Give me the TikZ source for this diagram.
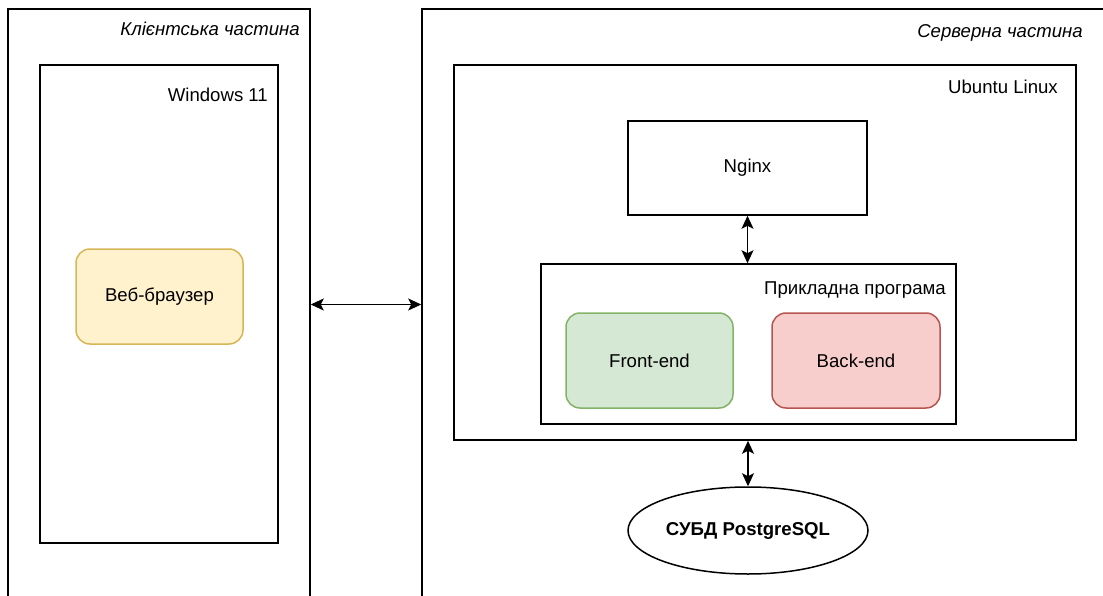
\documentclass[tikz,border=0pt]{standalone}
\usepackage{fontspec}
\setmainfont{Liberation Sans}
\usetikzlibrary{shapes.geometric,arrows.meta}
\definecolor{yfill}{HTML}{FFF2CC}
\definecolor{ydraw}{HTML}{D6B656}
\definecolor{gfill}{HTML}{D5E8D4}
\definecolor{gdraw}{HTML}{82B366}
\definecolor{rfill}{HTML}{F8CECC}
\definecolor{rdraw}{HTML}{B85450}
\begin{document}
\begin{tikzpicture}[x=1pt,y=-1pt,
  box/.style={draw=black, line width=1.5pt, rectangle, inner sep=0pt},
  rbox/.style={rectangle, line width=1.5pt, rounded corners=14pt, inner sep=0pt,
    font=\fontsize{18.6}{22}\selectfont, minimum width=167pt, minimum height=95pt},
  lbl/.style={font=\fontsize{18.6}{22}\selectfont, inner sep=0pt, anchor=base east},
  ilbl/.style={lbl, font=\fontsize{18.6}{22}\selectfont\itshape},
  link/.style={line width=1.5pt,
    {Stealth[length=13pt,width=12pt,inset=3pt]}-{Stealth[length=13pt,width=12pt,inset=3pt]}}]
\useasboundingbox (0,0) rectangle (1103,596);
\clip (0,0) rectangle (1103,596);
% client side
\node[box, minimum width=302pt, minimum height=591pt] (client) at (159,304.5) {};
\node[ilbl] (clientlbl) at (300,36) {Клієнтська частина};
\node[box, minimum width=238pt, minimum height=478pt] (windows) at (159,304) {};
\node[lbl] (winlbl) at (268,102) {Windows 11};
\node[rbox, fill=yfill, draw=ydraw] (browser) at (159.5,296.5) {Веб-браузер};
% server side
\node[box, minimum width=693pt, minimum height=591pt] (server) at (768.5,304.5) {};
\node[ilbl] (serverlbl) at (1083,38) {Серверна частина};
\node[box, minimum width=622pt, minimum height=375pt] (ubuntu) at (765,252.5) {};
\node[lbl] (ubuntulbl) at (1058,94) {Ubuntu Linux};
\node[box, minimum width=239pt, minimum height=94pt, font=\fontsize{18.6}{22}\selectfont] (nginx) at (747.5,168) {Nginx};
\node[box, minimum width=415pt, minimum height=160pt] (app) at (748.5,344) {};
\node[lbl] (applbl) at (946,294) {Прикладна програма};
\node[rbox, fill=gfill, draw=gdraw] (front) at (649.5,360.5) {Front-end};
\node[rbox, fill=rfill, draw=rdraw, minimum width=168pt] (back) at (856,360.5) {Back-end};
\node[ellipse, draw=black, line width=1.5pt, minimum width=240pt, minimum height=87pt, inner sep=0pt,
  font=\fontsize{18.6}{22}\selectfont\bfseries] (db) at (748,530.5) {СУБД PostgreSQL};
% connectors
\draw[link] (client.east) -- (server.west);
\draw[link] (nginx.south) -- (nginx.south |- app.north);
\draw[link] (ubuntu.south -| db.north) -- (db.north);
\end{tikzpicture}
\end{document}
